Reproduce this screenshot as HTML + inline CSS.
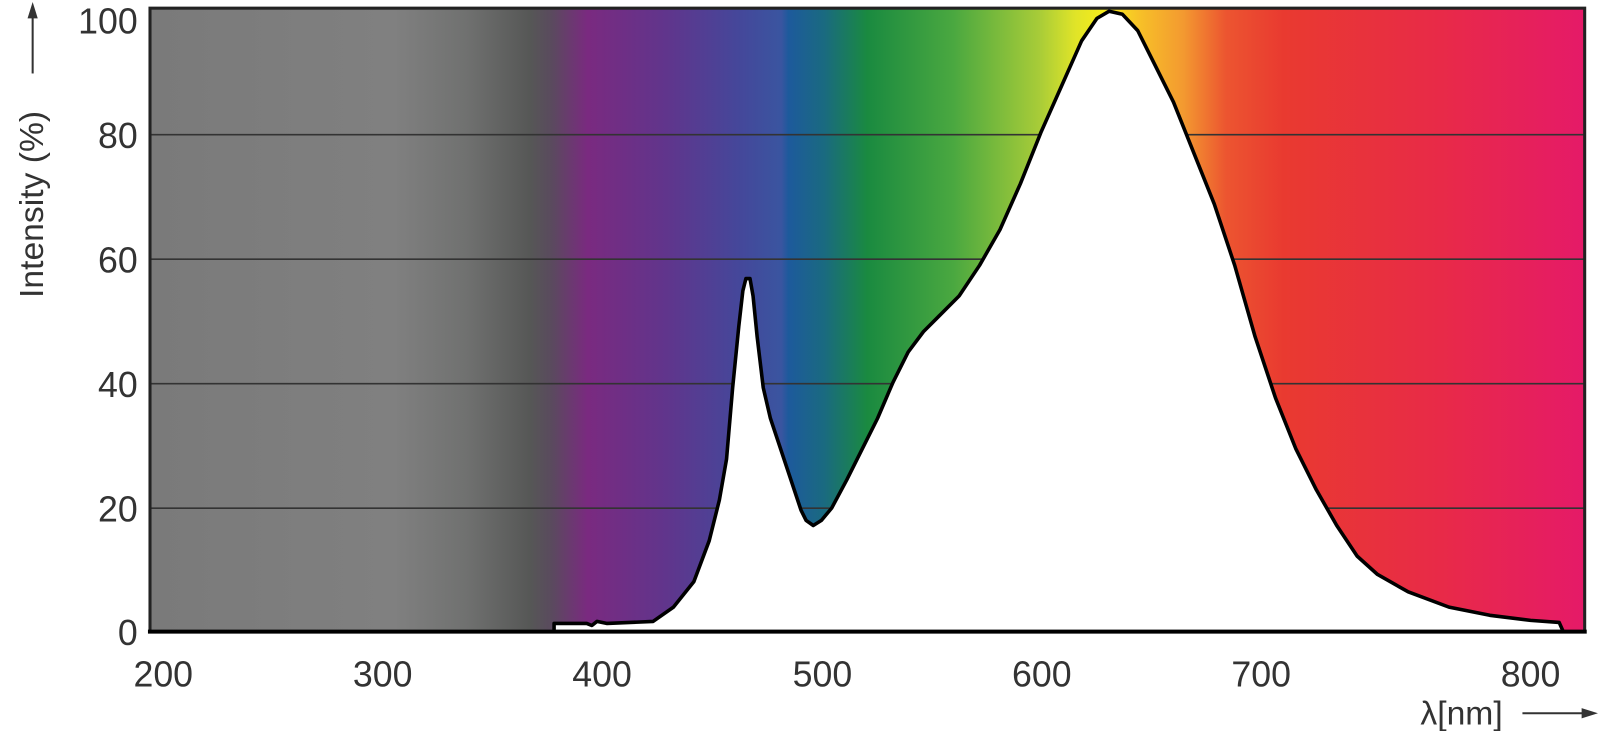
<!DOCTYPE html>
<html><head><meta charset="utf-8"><style>
html,body{margin:0;padding:0;background:#fff;}
svg{display:block;}
text{font-family:"Liberation Sans","DejaVu Sans",sans-serif;fill:#333;}
</style></head><body>
<svg width="1600" height="731" viewBox="0 0 1600 731">
<defs>
<linearGradient id="g" x1="147" y1="0" x2="1553" y2="0" gradientUnits="userSpaceOnUse">
<stop offset="0" stop-color="#7a7a7a"/>
<stop offset="0.17" stop-color="#808080"/>
<stop offset="0.22" stop-color="#707170"/>
<stop offset="0.265" stop-color="#565756"/>
<stop offset="0.28" stop-color="#5a4a5e"/>
<stop offset="0.305" stop-color="#7a2a80"/>
<stop offset="0.36" stop-color="#60358c"/>
<stop offset="0.41" stop-color="#45479a"/>
<stop offset="0.44" stop-color="#3a55a0"/>
<stop offset="0.445" stop-color="#1d5a9c"/>
<stop offset="0.47" stop-color="#1a6a80"/>
<stop offset="0.50" stop-color="#1a8a40"/>
<stop offset="0.56" stop-color="#4aa840"/>
<stop offset="0.62" stop-color="#a8cc38"/>
<stop offset="0.645" stop-color="#e0e428"/>
<stop offset="0.665" stop-color="#f7ec1a"/>
<stop offset="0.69" stop-color="#f7c028"/>
<stop offset="0.72" stop-color="#f39a30"/>
<stop offset="0.75" stop-color="#ec5530"/>
<stop offset="0.79" stop-color="#e93a30"/>
<stop offset="0.90" stop-color="#e82a48"/>
<stop offset="1" stop-color="#e51a68"/>
</linearGradient>
</defs>
<g transform="scale(1.0204)">
<rect x="147" y="8" width="1406" height="611" fill="url(#g)"/>
<g stroke="#333" stroke-width="1.6">
<line x1="147" y1="132" x2="1553" y2="132"/>
<line x1="147" y1="254" x2="1553" y2="254"/>
<line x1="147" y1="376" x2="1553" y2="376"/>
<line x1="147" y1="498" x2="1553" y2="498"/>
</g>
<path d="M543,619 L543,611 L575,611 L580,613 L585,609 L595,611 L640,609 L660,595 L680,570 L695,530 L705,490 L712,450 L718,380 L724,320 L728,285 L731,273 L735,273 L738,290 L742,330 L748,380 L755,410 L765,440 L775,470 L785,500 L790,510 L797,515 L805,510 L815,498 L830,470 L845,440 L860,410 L875,375 L890,345 L905,325 L920,310 L940,290 L960,260 L980,225 L1000,180 L1020,130 L1040,85 L1060,40 L1075,18 L1087,11 L1100,14 L1115,30 L1130,60 L1150,100 L1170,150 L1190,200 L1210,260 L1230,330 L1250,390 L1270,440 L1290,480 L1310,515 L1330,545 L1350,563 L1380,580 L1420,595 L1460,603 L1500,608 L1528,610 L1532,619 Z" fill="#fff" stroke="#000" stroke-width="3.5" stroke-linejoin="round"/>
<rect x="147" y="8" width="1406" height="611" fill="none" stroke="#222" stroke-width="3"/>
<line x1="145" y1="619" x2="1555" y2="619" stroke="#000" stroke-width="4"/>
<g font-size="35" text-anchor="end">
<text x="135" y="33">100</text>
<text x="135" y="145">80</text>
<text x="135" y="267">60</text>
<text x="135" y="389">40</text>
<text x="135" y="511">20</text>
<text x="135" y="632">0</text>
</g>
<g font-size="35" text-anchor="middle">
<text x="160" y="673">200</text>
<text x="375" y="673">300</text>
<text x="590" y="673">400</text>
<text x="806" y="673">500</text>
<text x="1021" y="673">600</text>
<text x="1236" y="673">700</text>
<text x="1500" y="673">800</text>
</g>
<text x="1392" y="710" font-size="33">λ[nm]</text>
<line x1="1492" y1="699" x2="1555" y2="699" stroke="#333" stroke-width="2"/>
<polygon points="1566,699 1550,694 1550,704" fill="#333"/>
<text transform="translate(42,292) rotate(-90)" font-size="33">Intensity (%)</text>
<line x1="32" y1="72" x2="32" y2="15" stroke="#333" stroke-width="2"/>
<polygon points="32,2 27,18 37,18" fill="#333"/>
</g>
</svg>
</body></html>
